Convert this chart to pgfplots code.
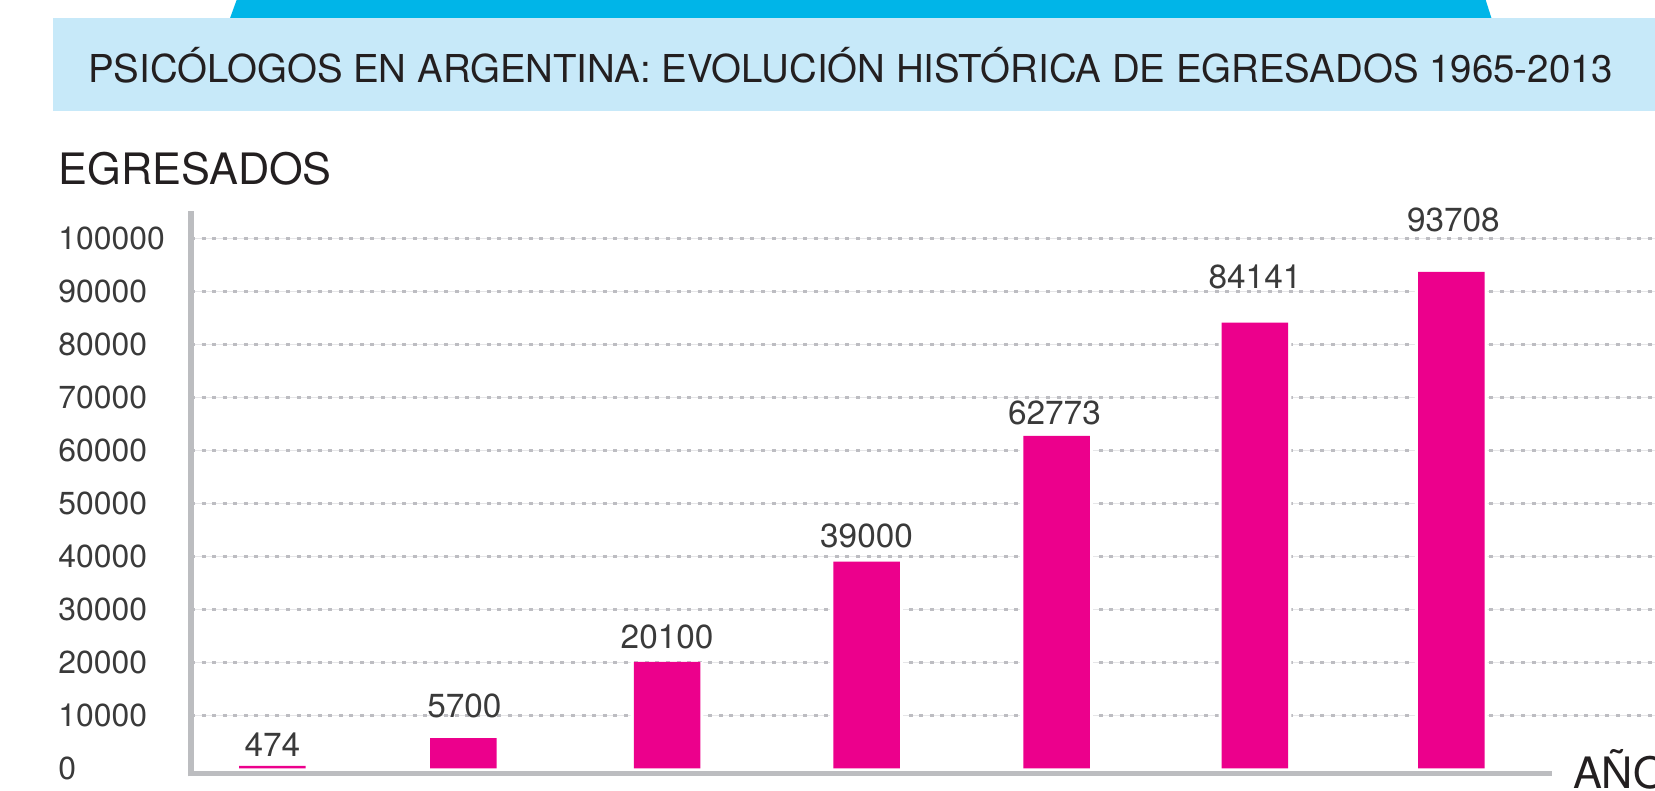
\documentclass[border=0pt]{standalone}
\usepackage{pgfplots}
\pgfplotsset{compat=1.18}
\usepackage{fontspec}
\setmainfont{TeX Gyre Heros}
\definecolor{barc}{HTML}{EC008C}
\definecolor{banner}{HTML}{C7E9F9}
\definecolor{cyanb}{HTML}{00B5E8}
\definecolor{gridc}{HTML}{BDBDC2}
\definecolor{gridf}{HTML}{E6E6E8}
\definecolor{axc}{HTML}{BCBDC0}
\definecolor{txt}{HTML}{231F20}
\definecolor{lab}{HTML}{3A3A3A}
\begin{document}
\begin{tikzpicture}
\begin{scope}[x=0.5pt,y=-0.5pt]
\fill[cyanb] (218,17) -- (226,-5) -- (1406,-5) -- (1413,17) -- cycle;
\fill[banner] (50,17) rectangle (1575,105);
\node[anchor=base, text=txt, font=\fontsize{18.2}{21}\selectfont, inner sep=0pt] at (806,78) {PSICÓLOGOS EN ARGENTINA: EVOLUCIÓN HISTÓRICA DE EGRESADOS 1965-2013};
\node[anchor=base west, text=txt, font=\fontsize{20.5}{24}\selectfont, inner sep=0pt] at (55,175) {EGRESADOS};
\end{scope}
\begin{axis}[
  at={(90.5pt,-366.5pt)}, anchor=south west,
  scale only axis, width=693.5pt, height=266.5pt,
  xmin=181, xmax=1568, ymin=-1000, ymax=105180,
  clip=false,
  axis line style={draw=none},
  xtick=\empty,
  ytick={0,10000,...,100000},
  minor ytick={10000,20000,...,100000},
  major tick length=0pt, minor tick length=0pt,
  scaled y ticks=false,
  yminorgrids,
  minor grid style={gridf, line width=0.5pt},
  extra y ticks={10000,20000,...,100000},
  extra y tick labels={},
  extra y tick style={grid=major, major grid style={gridc, line width=1.6pt, dash pattern=on 1.9pt off 3.1pt}},
  yticklabel style={anchor=west, inner sep=0pt, xshift=-63pt, font=\fontsize{15.1}{18}\selectfont, text=lab},
  /pgf/number format/fixed,
  /pgf/number format/1000 sep={},
  /pgf/number format/assume math mode=true,
]
\addplot[ybar, bar width=34.5pt, bar shift=0pt, fill=white, draw=none] coordinates {(258,474) (439,5700) (632,20100) (821,39000) (1001,62773) (1189,84141) (1375,93708)};
\addplot[ybar, bar width=31.5pt, bar shift=0pt, fill=barc, draw=none] coordinates {(258,474) (439,5700) (632,20100) (821,39000) (1001,62773) (1189,84141) (1375,93708)};
\addplot[draw=none, mark=none, nodes near coords, point meta=explicit symbolic,
  nodes near coords style={anchor=center, inner sep=0pt, font=\fontsize{15.8}{18}\selectfont, text=lab}]
  coordinates {(258,4382)[474] (440,11753)[5700] (632,24900)[20100] (821,43825)[39000] (999,67131)[62773] (1189,92829)[84141] (1377,103586)[93708]};
\draw[axc, line width=2.5pt] (axis cs:181,-1500) -- (axis cs:181,105180);
\draw[axc, line width=2.5pt] (axis cs:179,-1000) -- (axis cs:1470,-1000);
\node[anchor=base west, text=txt, font=\fontsize{20.5}{24}\selectfont, inner sep=0pt] at (axis cs:1490,-3800) {AÑOS};
\end{axis}
\pgfresetboundingbox
\path[use as bounding box] (0pt,0pt) rectangle (784pt,-374.5pt);
\end{tikzpicture}
\end{document}
